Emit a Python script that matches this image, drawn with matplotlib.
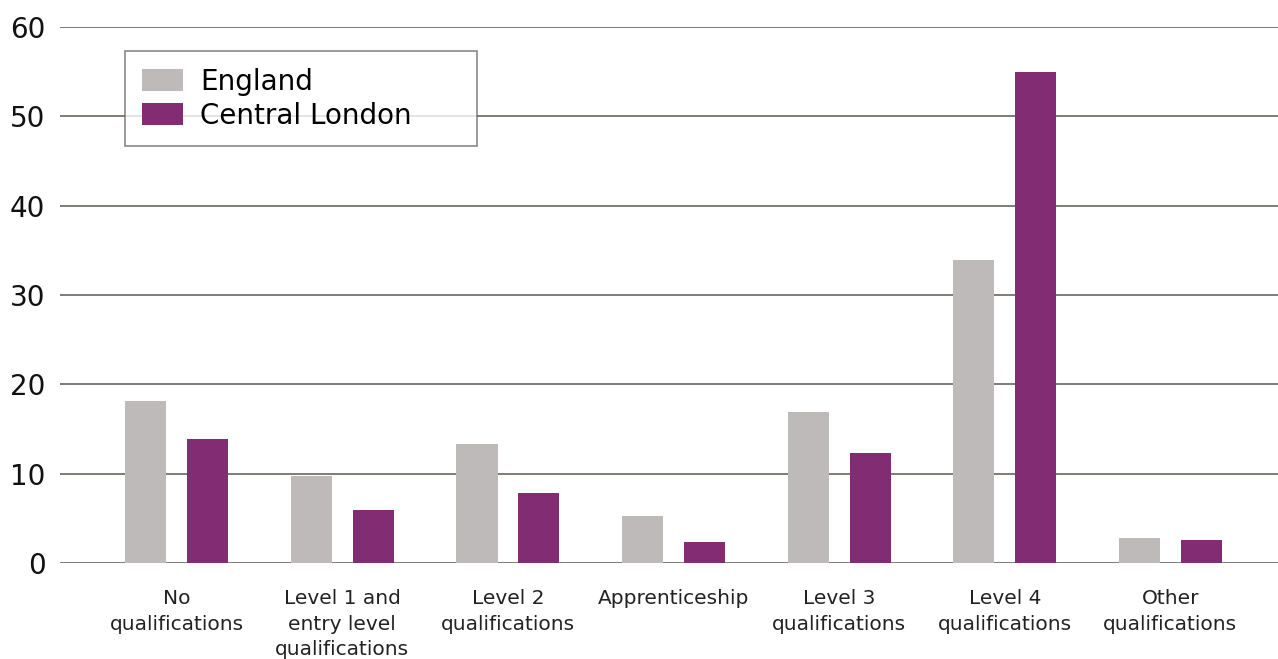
import matplotlib
matplotlib.use("Agg")
import matplotlib.pyplot as plt
import numpy as np

categories = [
    "No\nqualifications",
    "Level 1 and\nentry level\nqualifications",
    "Level 2\nqualifications",
    "Apprenticeship",
    "Level 3\nqualifications",
    "Level 4\nqualifications",
    "Other\nqualifications",
]
england = [18.1, 9.7, 13.3, 5.3, 16.9, 33.9, 2.8]
central_london = [13.9, 5.9, 7.8, 2.4, 12.3, 55.0, 2.6]
yticks = [0, 10, 20, 30, 40, 50, 60]

grey = "#BEBAB9"
purple = "#822C74"
grid_col = "#7F7B79"

plt.rcParams["font.family"] = ["DejaVu Sans"]

W, H = 1278, 659
fig = plt.figure(figsize=(W / 100, H / 100), dpi=100)
left, right, top, bottom = 60, 1278, 27, 563
ax = fig.add_axes([left / W, 1 - bottom / H, (right - left) / W, (bottom - top) / H])

x = np.arange(len(categories))
bw = 0.248
off = 0.187
ax.bar(x - off, england, width=bw, color=grey, label="England", zorder=3)
ax.bar(x + off, central_london, width=bw, color=purple, label="Central London", zorder=3)

ax.set_xlim(-0.705, 6.65)
ax.set_ylim(0, 60)
ax.set_yticks(yticks)
ax.set_yticklabels([str(v) for v in yticks], fontsize=20, color="#111111")
ax.set_xticks(x)
ax.set_xticklabels(categories, fontsize=14.5, color="#222222", linespacing=1.42)
ax.tick_params(axis="both", length=0)
ax.tick_params(axis="y", pad=10.5)
ax.tick_params(axis="x", pad=19)

for v in yticks:
    ax.axhline(v, color=grid_col, linewidth=1.4, zorder=1)
for s in ax.spines.values():
    s.set_visible(False)

x0 = (125 - left) / (right - left)
y1 = (bottom - 51) / (bottom - top)
w = (477 - 125) / (right - left)
h = (142 - 51) / (bottom - top)
leg = ax.legend(
    loc="upper left",
    bbox_to_anchor=(x0, y1 - h, w, h),
    mode="expand",
    borderaxespad=0,
    fontsize=20,
    frameon=True,
    fancybox=False,
    handlelength=1.5,
    handleheight=0.8,
    handletextpad=0.6,
    labelspacing=0.22,
    borderpad=0.6,
)
leg.get_frame().set_edgecolor("#6E6A68")
leg.get_frame().set_linewidth(1.2)
leg.set_zorder(5)

fig.savefig("out.png", dpi=100)
